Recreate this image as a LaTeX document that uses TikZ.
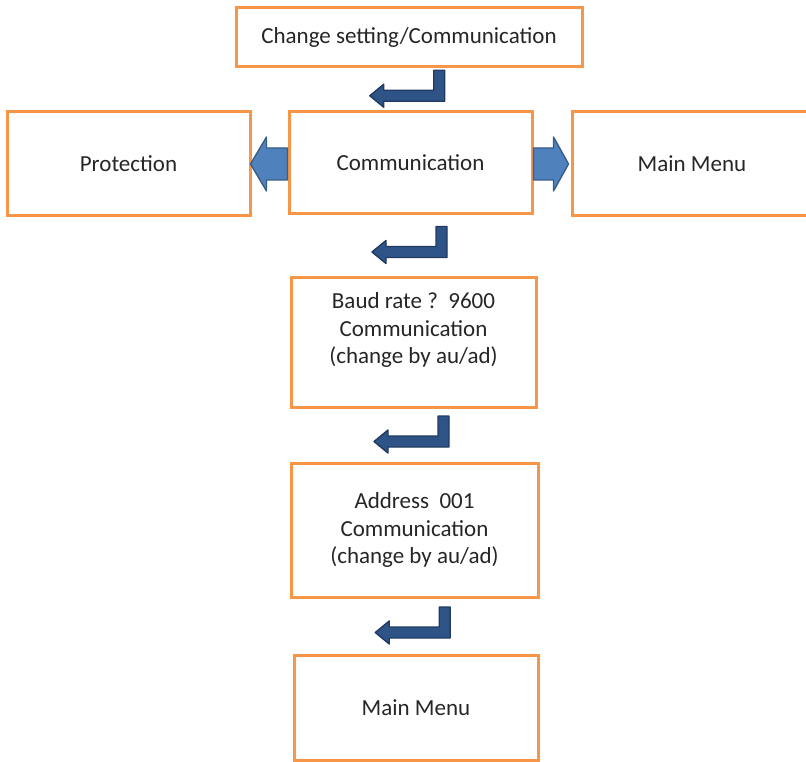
\documentclass[tikz,border=0pt]{standalone}
\usepackage{fontspec}
\setmainfont{Carlito}
\usetikzlibrary{calc}
\definecolor{boxorange}{RGB}{247,150,70}
\definecolor{stepblue}{RGB}{79,129,189}
\definecolor{stepedge}{RGB}{56,93,138}
\definecolor{bentblue}{RGB}{46,84,135}
\definecolor{bentedge}{RGB}{32,58,98}

\begin{document}
\begin{tikzpicture}[
  x=1pt, y=-1pt,
  menubox/.style={draw=boxorange, line width=3pt, fill=white, inner sep=0pt,
    align=center, font=\fontsize{23}{27.5}\selectfont, text=black!85},
  sidearrow/.style={fill=stepblue, draw=stepedge, line width=1.4pt, line join=round},
  bent/.pic={
    \filldraw[fill=bentblue, draw=bentedge, line width=1.4pt, line join=round]
      (24,-19) -- (35,-19) -- (35,12) -- (-26,12) -- (-26,18) -- (-40,6.5)
      -- (-26,-5) -- (-26,1) -- (24,1) -- cycle;
  }
]
  \clip (0,0) rectangle (806,762);
  \useasboundingbox (0,0) rectangle (806,762);

  % Boxes
  \node[menubox, minimum width=346pt, minimum height=59pt] (top) at (409,37)
    {Change setting/Communication};
  \node[menubox, minimum width=243pt, minimum height=102pt] (comm) at (410.5,163)
    {Communication};
  \node[menubox, minimum width=243pt, minimum height=104pt] (prot) at (128.5,164)
    {Protection};
  \node[menubox, minimum width=240pt, minimum height=104pt] (menuR) at (692,164)
    {Main Menu};
  \node[menubox, minimum width=245pt, minimum height=130pt] (baud) at (413.5,342)
    {Baud rate ?\ \ 9600\\Communication\\(change by au/ad)\\\mbox{}};
  \node[menubox, minimum width=247pt, minimum height=134pt] (addr) at (414.5,530)
    {Address\ \ 001\\Communication\\(change by au/ad)};
  \node[menubox, minimum width=244pt, minimum height=105pt] (menuB) at (416,707.5)
    {Main Menu};

  % Bent arrows
  \pic at ($(top.south)!0.5!(comm.north)$) {bent};
  \pic at ($(comm.south)!0.5!(baud.north)$) {bent};
  \pic at ($(baud.south)!0.5!(addr.north)$) {bent};
  \pic at ($(addr.south)!0.5!(menuB.north)$) {bent};

  % Side arrows
  \filldraw[sidearrow] ($(comm.west)+(0,17)$) -- ++(-21,0) -- ++(0,11)
    -- ++(-16,-27) -- ++(16,-27) -- ++(0,11) -- ++(21,0) -- cycle;
  \filldraw[sidearrow] ($(comm.east)+(0,17)$) -- ++(20,0) -- ++(0,11)
    -- ++(15,-27) -- ++(-15,-27) -- ++(0,11) -- ++(-20,0) -- cycle;
\end{tikzpicture}
\end{document}
